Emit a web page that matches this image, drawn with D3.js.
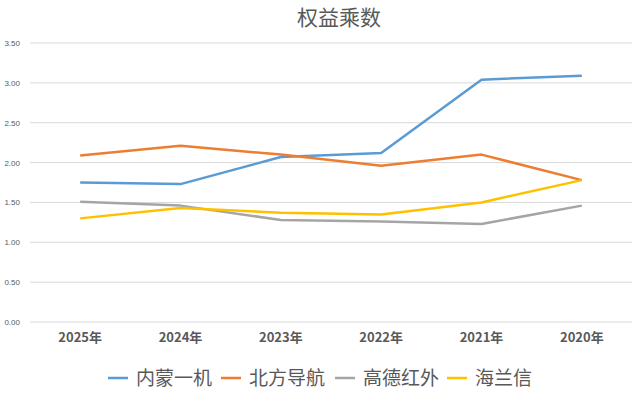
<!DOCTYPE html>
<html>
<head>
<meta charset="utf-8">
<script src="https://cdn.jsdelivr.net/npm/d3@7"></script>
<style>
  body { margin: 0; background: #fff; }
  svg { display: block; }
</style>
</head>
<body>
<svg id="chart"></svg>
<script>
const years = ['2025年', '2024年', '2023年', '2022年', '2021年', '2020年'];
const names = ['内蒙一机', '北方导航', '高德红外', '海兰信'];
const neimeng = [1.75, 1.73, 2.07, 2.12, 3.04, 3.09];
const beifang = [2.09, 2.21, 2.10, 1.96, 2.10, 1.78];
const gaode = [1.51, 1.46, 1.28, 1.26, 1.23, 1.46];
const hailanxin = [1.30, 1.43, 1.37, 1.35, 1.50, 1.78];
const yTicks = [0, 0.5, 1, 1.5, 2, 2.5, 3, 3.5];
const colors = ['#5B9BD5', '#ED7D31', '#A5A5A5', '#FFC000'];

const series = [neimeng, beifang, gaode, hailanxin].map((vals, i) => ({
  name: names[i], color: colors[i], values: vals
}));

const width = 640, height = 400;
const margin = { top: 43, right: 8, bottom: 78, left: 30 };

const svg = d3.select('#chart').attr('width', width).attr('height', height);

svg.append('text')
  .attr('x', 339).attr('y', 25)
  .attr('text-anchor', 'middle')
  .style('font-family', '"Noto Sans CJK SC", sans-serif')
  .style('font-size', '21px')
  .style('fill', '#595959')
  .text('权益乘数');

const x = d3.scaleBand()
  .domain(years)
  .range([margin.left, width - margin.right]);

const y = d3.scaleLinear()
  .domain([0, 3.5])
  .range([height - margin.bottom, margin.top]);

// gridlines
svg.append('g')
  .selectAll('line')
  .data(yTicks)
  .enter()
  .append('line')
  .attr('x1', margin.left).attr('x2', width - margin.right)
  .attr('y1', d => y(d)).attr('y2', d => y(d))
  .attr('stroke', '#d9d9d9')
  .attr('stroke-width', 1);

// y axis labels
const yAxis = svg.append('g')
  .attr('transform', `translate(${margin.left - 7},0)`)
  .call(d3.axisLeft(y).tickValues(yTicks).tickFormat(d3.format('.2f')).tickSize(0));
yAxis.select('.domain').remove();
yAxis.selectAll('text')
  .style('font-family', '"Liberation Sans", Arial, sans-serif')
  .style('font-size', '8px')
  .style('fill', '#595959');

// x axis labels
const xAxis = svg.append('g')
  .attr('transform', `translate(0,${height - margin.bottom + 8})`)
  .call(d3.axisBottom(x).tickSize(0));
xAxis.select('.domain').remove();
xAxis.selectAll('text')
  .style('font-family', '"Noto Sans CJK SC", sans-serif')
  .style('font-size', '13px')
  .style('font-weight', 'bold')
  .style('fill', '#595959');

// lines
const line = d3.line()
  .x((d, i) => x(years[i]) + x.bandwidth() / 2)
  .y(d => y(d));

svg.append('g')
  .selectAll('path')
  .data(series)
  .enter()
  .append('path')
  .attr('d', d => line(d.values))
  .attr('fill', 'none')
  .attr('stroke', d => d.color)
  .attr('stroke-width', 2.5)
  .attr('stroke-linejoin', 'round');

// legend
const legendX = [108, 221, 335, 447];
const legend = svg.append('g')
  .selectAll('g')
  .data(series)
  .enter()
  .append('g')
  .attr('transform', (d, i) => `translate(${legendX[i]},378)`);

legend.append('line')
  .attr('x1', 0).attr('x2', 20)
  .attr('stroke', d => d.color)
  .attr('stroke-width', 2.5);

legend.append('text')
  .attr('x', 28).attr('dy', '0.35em')
  .style('font-family', '"Noto Sans CJK SC", sans-serif')
  .style('font-size', '19px')
  .style('fill', '#595959')
  .text(d => d.name);
</script>
</body>
</html>
